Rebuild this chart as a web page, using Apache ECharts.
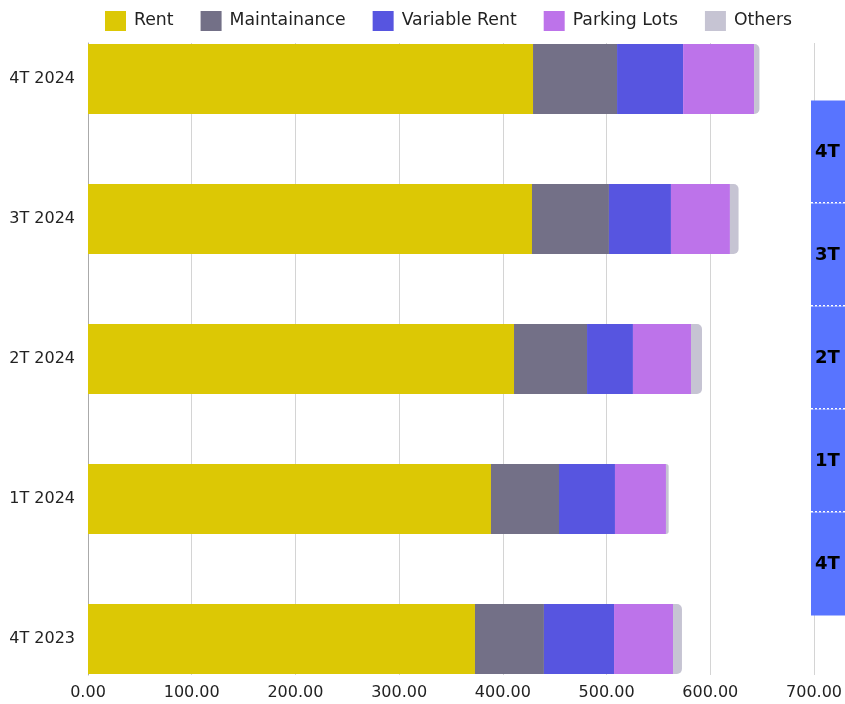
<!DOCTYPE html>
<html>
<head>
<meta charset="utf-8">
<script src="https://cdn.jsdelivr.net/npm/echarts@6/dist/echarts.min.js"></script>
<style>html,body{margin:0;padding:0;background:#fff;}#c{width:845px;height:704px;}</style>
</head>
<body>
<div id="c"></div>
<script>
var categories = ['4T 2024', '3T 2024', '2T 2024', '1T 2024', '4T 2023'];
var seriesNames = ['Rent', 'Maintainance', 'Variable Rent', 'Parking Lots', 'Others'];
var rent = [428.5, 427.5, 410.2, 388.0, 372.6];
var maintainance = [80.9, 74.1, 70.3, 65.5, 66.4];
var variableRent = [63.6, 59.7, 44.2, 53.9, 67.5];
var parkingLots = [68.3, 56.8, 55.9, 49.1, 56.8];
var others = [5.2, 8.3, 10.6, 2.6, 8.6];
var xTicks = [0, 100, 200, 300, 400, 500, 600, 700];

var colors = ['#DCC805', '#737087', '#5755E0', '#BD73EA', '#C6C4D3'];
var values = [rent, maintainance, variableRent, parkingLots, others];
var FONT = '"DejaVu Sans"';

var chart = echarts.init(document.getElementById('c'), null, {renderer: 'canvas'});
var series = seriesNames.map(function (n, i) {
  return {
    name: n, type: 'bar', stack: 'total', xAxisIndex: 0, yAxisIndex: 0,
    barWidth: 70, z: 3,
    itemStyle: {color: colors[i], borderRadius: i === 4 ? [0, 5, 5, 0] : 0},
    data: values[i]
  };
});
chart.setOption({
  animation: false,
  color: colors,
  textStyle: {fontFamily: FONT},
  legend: {
    top: 6, left: 100, icon: 'rect', itemWidth: 21, itemHeight: 20, itemGap: 27,
    textStyle: {fontSize: 17.3, color: '#222', fontFamily: FONT, padding: [0, 0, 0, 3]},
    data: seriesNames
  },
  grid: [
    {left: 88, right: 30, top: 79, height: 560},
    {left: 88, right: 30, top: 43, height: 632},
    {left: 811, top: 100.5, height: 515, width: 100}
  ],
  xAxis: [
    {gridIndex: 0, type: 'value', min: xTicks[0], max: xTicks[xTicks.length - 1], show: false},
    {gridIndex: 1, type: 'value', min: xTicks[0], max: xTicks[xTicks.length - 1], interval: 100,
      axisLine: {show: false}, axisTick: {show: false},
      splitLine: {show: true, lineStyle: {color: '#d4d4d4', width: 1}},
      axisLabel: {fontSize: 16, color: '#222', margin: 10, fontFamily: FONT,
        formatter: function (v) { return v.toFixed(2); }}},
    {gridIndex: 2, type: 'value', show: false}
  ],
  yAxis: [
    {gridIndex: 0, type: 'category', inverse: true, boundaryGap: false, data: categories,
      axisLine: {show: false}, axisTick: {show: false}, splitLine: {show: false},
      axisLabel: {fontSize: 16, color: '#222', margin: 13, fontFamily: FONT}},
    {gridIndex: 1, type: 'category', data: categories,
      axisLine: {show: true, lineStyle: {color: '#aaaaaa', width: 1}},
      axisTick: {show: false}, axisLabel: {show: false}, splitLine: {show: false}},
    {gridIndex: 2, type: 'category', inverse: true, data: categories, z: 6,
      axisLine: {show: false}, axisTick: {show: false}, splitLine: {show: false},
      axisLabel: {inside: true, interval: 0, margin: 0, fontSize: 18, fontWeight: 'bold', color: '#000',
        fontFamily: FONT, align: 'left', verticalAlign: 'middle',
        backgroundColor: '#5874FF', borderColor: '#ffffff', borderWidth: 1.5, borderType: [2, 2],
        width: 90, height: 103, padding: [0, 0, 0, 4], lineHeight: 103}}
  ],
  series: series
});
</script>
</body>
</html>
